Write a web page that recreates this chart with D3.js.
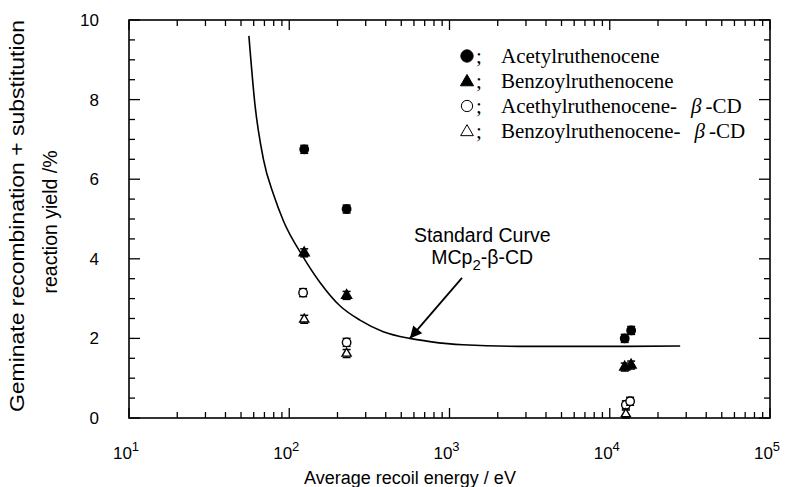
<!DOCTYPE html>
<html><head><meta charset="utf-8">
<script src="https://cdn.jsdelivr.net/npm/d3@7"></script>
<style>body{margin:0;background:#fff}svg{display:block}</style>
</head><body>
<svg id="c" width="793" height="487"></svg>
<script>
// ---- data ----
const seriesNames = ["Acetylruthenocene","Benzoylruthenocene","Acethylruthenocene-","Benzoylruthenocene-"];
const acetyl    = [[124,6.75],[228,5.25],[12400,2.0],[13600,2.2]];
const benzoyl   = [[124,4.15],[228,3.08],[12400,1.28],[13600,1.33]];
const acetylCD  = [[122,3.15],[228,1.9],[12600,0.33],[13400,0.42]];
const benzoylCD = [[124,2.48],[228,1.62],[12600,0.1]];
const errHalf = 0.1;
const curveE = [56,61,69,80,92,122,156,207,276,386,566,755,1214,3177,10000,27500];
const curveY = [9.6,7.9,6.5,5.6,4.95,4.05,3.4,2.82,2.46,2.17,2.0,1.92,1.84,1.8,1.8,1.81];
const xDecades = [1,2,3,4,5];
const yTicks = [0,2,4,6,8,10];
const annotLines = ["Standard Curve","MCp","2","-β-CD"];
const arrowFrom = [1197,3.52], arrowTo = [566,2.0], textAt = [1600,4.42];

const svg = d3.select("#c");
const L=129,R=770,T=20,B=418;
const x = d3.scaleLog().domain([10,1e5]).range([L,R]);
const y = d3.scaleLinear().domain([0,10]).range([B,T]);
const sans = "'Liberation Sans', Arial, Helvetica, sans-serif";
const serif = "'Liberation Serif', 'Times New Roman', serif";

// frame
svg.append("rect").attr("x",L).attr("y",T).attr("width",R-L).attr("height",B-T)
  .attr("fill","none").attr("stroke","#000").attr("stroke-width",1.6);

// x ticks (log)
const minorX = [], majorX = [];
for (let d=1; d<5; d++) for (let m=1;m<10;m++){ const v=m*Math.pow(10,d); if(m===1) majorX.push(v); else minorX.push(v);}
majorX.push(1e5);
const gt = svg.append("g").attr("stroke","#000").attr("stroke-width",1.3);
majorX.forEach(v=>{ gt.append("line").attr("x1",x(v)).attr("x2",x(v)).attr("y1",B).attr("y2",B-10);
  gt.append("line").attr("x1",x(v)).attr("x2",x(v)).attr("y1",T).attr("y2",T+10);});
minorX.forEach(v=>{ gt.append("line").attr("x1",x(v)).attr("x2",x(v)).attr("y1",B).attr("y2",B-6);
  gt.append("line").attr("x1",x(v)).attr("x2",x(v)).attr("y1",T).attr("y2",T+6);});
// y ticks
d3.range(0,10.01,0.5).forEach(v=>{
  const maj = Math.abs(v%2)<1e-6; const len = maj?11:6;
  gt.append("line").attr("x1",L).attr("x2",L+len).attr("y1",y(v)).attr("y2",y(v));
  gt.append("line").attr("x1",R).attr("x2",R-len).attr("y1",y(v)).attr("y2",y(v));
});

// tick labels
svg.append("g").selectAll("text").data(yTicks).join("text")
  .attr("x",99).attr("y",d=>y(d)+6).attr("text-anchor","end")
  .attr("font-family",sans).attr("font-size",17).text(d=>d);
const xl = svg.append("g").selectAll("text").data(xDecades).join("text")
  .attr("x",d=>x(Math.pow(10,d))-3).attr("y",459).attr("text-anchor","middle")
  .attr("font-family",sans).attr("font-size",17);
xl.append("tspan").text("10");
xl.append("tspan").attr("dy",-8).attr("font-size",13).text(d=>d);

// axis titles
svg.append("text").attr("x",410).attr("y",484).attr("text-anchor","middle")
  .attr("font-family",sans).attr("font-size",18).text("Average recoil energy / eV");
const cy = (T+B)/2;
svg.append("text").attr("transform",`translate(24,${cy-3}) rotate(-90)`)
  .attr("text-anchor","middle").attr("font-family",sans).attr("font-size",20.5)
  .attr("textLength",392).attr("lengthAdjust","spacingAndGlyphs")
  .text("Geminate recombination + substitution");
svg.append("text").attr("transform",`translate(57,${cy+3}) rotate(-90)`)
  .attr("text-anchor","middle").attr("font-family",sans).attr("font-size",19.5)
  .text("reaction yield /%");

// curve
const line = d3.line().x(d=>x(d[0])).y(d=>y(d[1])).curve(d3.curveMonotoneX);
svg.append("path").datum(curveE.map((e,i)=>[e,curveY[i]])).attr("d",line)
  .attr("fill","none").attr("stroke","#000").attr("stroke-width",1.6);

// error bars + markers
const circ = d3.symbol().type(d3.symbolCircle).size(56);
const tri = d3.symbol().type(d3.symbolTriangle).size(44);
const tri2 = d3.symbol().type(d3.symbolTriangle).size(36);
function drawSeries(data, sym, filled){
  const g = svg.append("g");
  data.forEach(d=>{
    const cx=x(d[0]);
    g.append("line").attr("x1",cx).attr("x2",cx).attr("y1",y(d[1]-errHalf)).attr("y2",y(d[1]+errHalf)).attr("stroke","#000").attr("stroke-width",1.3);
    [d[1]-errHalf,d[1]+errHalf].forEach(v=>g.append("line").attr("x1",cx-4).attr("x2",cx+4).attr("y1",y(v)).attr("y2",y(v)).attr("stroke","#000").attr("stroke-width",1.5));
    g.append("path").attr("d",sym()).attr("transform",`translate(${cx},${y(d[1])})`)
      .attr("fill",filled?"#000":"#fff").attr("stroke","#000").attr("stroke-width",1.4);
  });
}
drawSeries(acetyl,circ,true);
drawSeries(benzoyl,tri,true);
drawSeries(acetylCD,circ,false);
drawSeries(benzoylCD,tri2,false);

// annotation
svg.append("defs").append("marker").attr("id","ah").attr("viewBox","0 0 10 10")
  .attr("refX",10).attr("refY",5).attr("markerWidth",15).attr("markerHeight",12).attr("orient","auto")
  .attr("markerUnits","userSpaceOnUse").append("path").attr("d","M0,0L10,5L0,10z").attr("fill","#000");
svg.append("line").attr("x1",x(arrowFrom[0])).attr("y1",y(arrowFrom[1]))
  .attr("x2",x(arrowTo[0])).attr("y2",y(arrowTo[1])).attr("stroke","#000").attr("stroke-width",1.8)
  .attr("marker-end","url(#ah)");
svg.append("text").attr("font-family",sans).attr("font-size",19.5).attr("text-anchor","middle")
  .attr("x",x(textAt[0])).attr("y",y(textAt[1])).text(annotLines[0]);
const at2 = svg.append("text").attr("font-family",sans).attr("font-size",19.5).attr("text-anchor","middle")
  .attr("x",x(textAt[0])).attr("y",y(textAt[1])+22);
at2.append("tspan").text(annotLines[1]);
at2.append("tspan").attr("dy",6).attr("font-size",15).text(annotLines[2]);
at2.append("tspan").attr("dy",-6).text(annotLines[3]);

// legend
const legSyms = [[d3.symbolCircle,120,true],[d3.symbolTriangle,75,true],[d3.symbolCircle,100,false],[d3.symbolTriangle,70,false]];
const rowsY = [56,81,106,131];
seriesNames.forEach((n,i)=>{
  const [t,s,f]=legSyms[i];
  svg.append("path").attr("d",d3.symbol().type(t).size(s)()).attr("transform",`translate(467,${rowsY[i]+ (t===d3.symbolTriangle?1:0)})`)
    .attr("fill",f?"#000":"#fff").attr("stroke","#000").attr("stroke-width",1);
  svg.append("text").attr("x",476).attr("y",rowsY[i]+7).attr("font-family",serif).attr("font-size",21).text(";");
  const tx = svg.append("text").attr("x",501).attr("y",rowsY[i]+7).attr("font-family",serif).attr("font-size",21);
  tx.append("tspan").text(n);
  if(i>=2){ tx.append("tspan").attr("dx",14).attr("font-style","italic").text("β");
            tx.append("tspan").attr("dx",4).text("-CD"); }
});
</script>
</body></html>
